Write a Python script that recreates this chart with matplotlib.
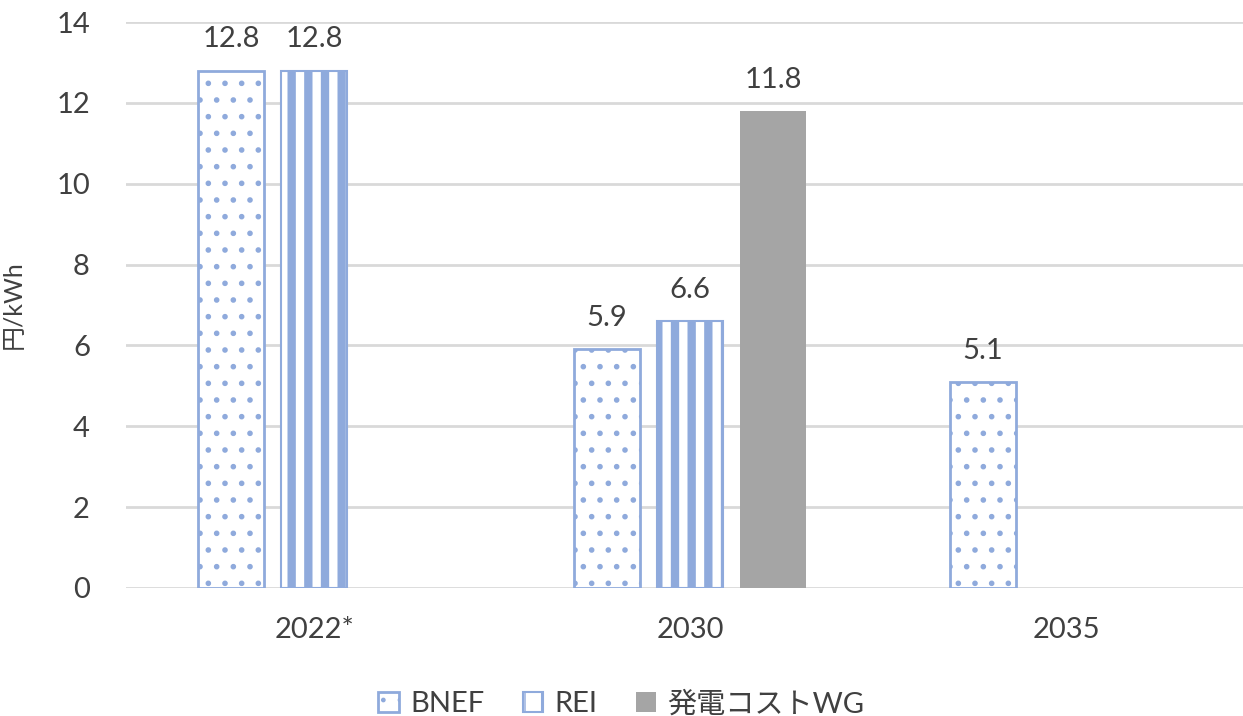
import numpy as np
import matplotlib
matplotlib.use("Agg")
import matplotlib.pyplot as plt

plt.rcParams['font.family'] = ['Lato', 'Noto Sans CJK JP', 'DejaVu Sans']

#*************************************************
# data
#*************************************************
categories = ["2022*", "2030", "2035"]
series_names = ["BNEF", "REI", "発電コストWG"]
bnef = [12.8, 5.9, 5.1]
rei = [12.8, 6.6, np.nan]
wg = [np.nan, 11.8, np.nan]
y_ticks = [0, 2, 4, 6, 8, 10, 12, 14]

blue = "#8FAADC"
grey = "#A5A5A5"
text_col = "#404040"

fig = plt.figure(figsize=(12.43, 7.16), dpi=100)
# plot area runs a bit past the right edge, as in the original
ax = fig.add_axes([126/1243, 1 - 588/716, 1128/1243, (588 - 22)/716])

x = np.arange(len(categories))
w = 0.175
step = 0.221

b1 = ax.bar(x - step, bnef, w, facecolor="white", edgecolor=blue,
            hatch=".", linewidth=2, label=series_names[0])
b2 = ax.bar(x, rei, w, facecolor="white", edgecolor=blue,
            hatch="|", linewidth=1.5, label=series_names[1])
b3 = ax.bar(x + step, wg, w, color=grey, label=series_names[2])

for p in b1:
    p.set_hatch_linewidth(1.6)
for p in b2:
    p.set_hatch_linewidth(6.0)

for bars, vals in ((b1, bnef), (b2, rei), (b3, wg)):
    for p, v in zip(bars, vals):
        if np.isnan(v):
            continue
        ax.text(p.get_x() + p.get_width()/2, v + 0.45, f"{v:.1f}",
                ha="center", va="bottom", fontsize=21, color=text_col)

ax.set_xlim(-0.5, 2.5)
ax.set_ylim(0, 14)
ax.set_yticks(y_ticks)
ax.set_xticks(x)
ax.set_xticklabels(categories)
ax.tick_params(axis="both", length=0, labelsize=21, labelcolor=text_col)
ax.tick_params(axis="y", pad=26)
ax.tick_params(axis="x", pad=21)
ax.yaxis.grid(True, color="#D9D9D9", linewidth=2)
ax.set_axisbelow(True)
for s in ax.spines.values():
    s.set_visible(False)

fig.text(13/1243, 1 - 305/716, "円/kWh", rotation=90, ha="center", va="center",
         fontsize=18, color=text_col)

leg = fig.legend(handles=[b1, b2, b3], labels=series_names, loc="center",
                 bbox_to_anchor=(0.5, 1 - 704/716), ncol=3, frameon=False,
                 fontsize=21, labelcolor=text_col, handlelength=0.7,
                 handleheight=0.7, handletextpad=0.4, columnspacing=1.3)

fig.savefig("out.png", dpi=100)
